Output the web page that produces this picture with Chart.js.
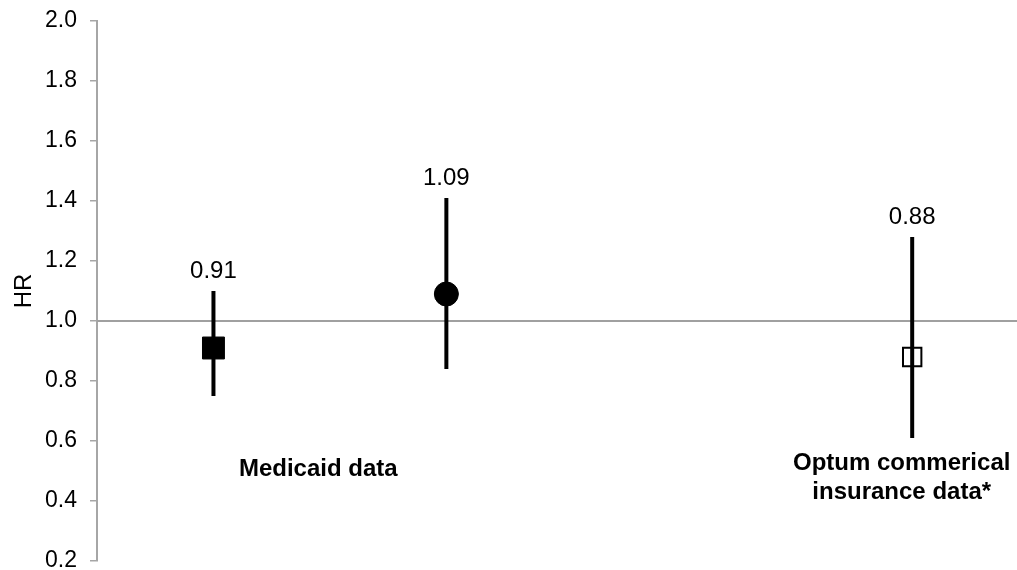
<!DOCTYPE html>
<html>
<head>
<meta charset="utf-8">
<script src="https://cdn.jsdelivr.net/npm/chart.js@4/dist/chart.umd.min.js"></script>
<style>
  html, body { margin: 0; padding: 0; background: #fff; overflow: hidden; }
  canvas { display: block; }
</style>
</head>
<body>
<canvas id="hrChart" width="1017" height="570"></canvas>
<script>
// Datos
const positions = [1, 3, 7];
const hrValues = [0.91, 1.09, 0.88];
const ciLower = [0.75, 0.84, 0.61];
const ciUpper = [1.10, 1.41, 1.28];
const valueLabels = ['0.91', '1.09', '0.88'];
const referenceHR = 1.0;
const groupLabels = [['Medicaid data'], ['Optum commerical', 'insurance data*']];
const groupLabelX = [1.9, 6.91];
const groupLabelY = [0.507, 0.477];

const FONT = "'Liberation Sans', Arial, sans-serif";

// Barras de error, etiquetas de valor y textos de grupo
const annotatePlugin = {
    id: 'annotate',
    afterDatasetsDraw(chart) {
        const ctx = chart.ctx;
        const xs = chart.scales.x;
        const ys = chart.scales.y;
        ctx.save();
        ctx.strokeStyle = '#000';
        ctx.lineWidth = 4;
        positions.forEach((p, i) => {
            const x = xs.getPixelForValue(p);
            ctx.beginPath();
            ctx.moveTo(x, ys.getPixelForValue(ciLower[i]));
            ctx.lineTo(x, ys.getPixelForValue(ciUpper[i]));
            ctx.stroke();
        });

        ctx.fillStyle = '#000';
        ctx.textAlign = 'center';
        ctx.textBaseline = 'middle';
        ctx.font = '24px ' + FONT;
        positions.forEach((p, i) => {
            const x = xs.getPixelForValue(p);
            const y = ys.getPixelForValue(ciUpper[i]) - 20;
            ctx.fillText(valueLabels[i], x, y);
        });

        ctx.font = 'bold 24px ' + FONT;
        groupLabels.forEach((lines, i) => {
            const x = xs.getPixelForValue(groupLabelX[i]);
            const yc = ys.getPixelForValue(groupLabelY[i]);
            const lh = 29;
            const y0 = yc - (lines.length - 1) * lh / 2;
            lines.forEach((t, j) => ctx.fillText(t, x, y0 + j * lh));
        });
        ctx.restore();
    }
};

const ctx = document.getElementById('hrChart').getContext('2d');
new Chart(ctx, {
    type: 'scatter',
    data: {
        datasets: [
            {
                data: positions.map((p, i) => ({ x: p, y: hrValues[i] })),
                pointStyle: ['rect', 'circle', 'rect'],
                pointRadius: [15.5, 12, 13],
                backgroundColor: ['#000', '#000', '#fff'],
                borderColor: '#000',
                borderWidth: [1, 1, 2]
            },
            {
                type: 'line',
                data: [{ x: 0, y: referenceHR }, { x: 7.9, y: referenceHR }],
                borderColor: '#a0a0a0',
                borderWidth: 2,
                pointRadius: 0
            }
        ]
    },
    options: {
        responsive: false,
        animation: false,
        events: [],
        layout: {
            autoPadding: false,
            padding: { top: 21, bottom: 9, left: 0, right: 0 }
        },
        plugins: {
            legend: { display: false },
            tooltip: { enabled: false }
        },
        scales: {
            x: {
                type: 'linear',
                display: false,
                min: 0,
                max: 7.9
            },
            y: {
                min: 0.2,
                max: 2.0,
                ticks: {
                    stepSize: 0.2,
                    padding: 13,
                    color: '#000',
                    font: { family: FONT, size: 23 },
                    callback: v => Number(v).toFixed(1)
                },
                grid: {
                    drawOnChartArea: false,
                    drawTicks: true,
                    tickLength: 7,
                    color: '#a6a6a6',
                    lineWidth: 1.5
                },
                border: { display: true, color: '#a6a6a6', width: 2 },
                title: {
                    display: true,
                    text: 'HR',
                    color: '#000',
                    font: { family: FONT, size: 24 },
                    padding: { top: 10, bottom: 0 }
                },
                afterFit(scale) {
                    scale.width = 97;
                    scale.paddingTop = 0;
                    scale.paddingBottom = 0;
                }
            }
        }
    },
    plugins: [annotatePlugin]
});
</script>
</body>
</html>
